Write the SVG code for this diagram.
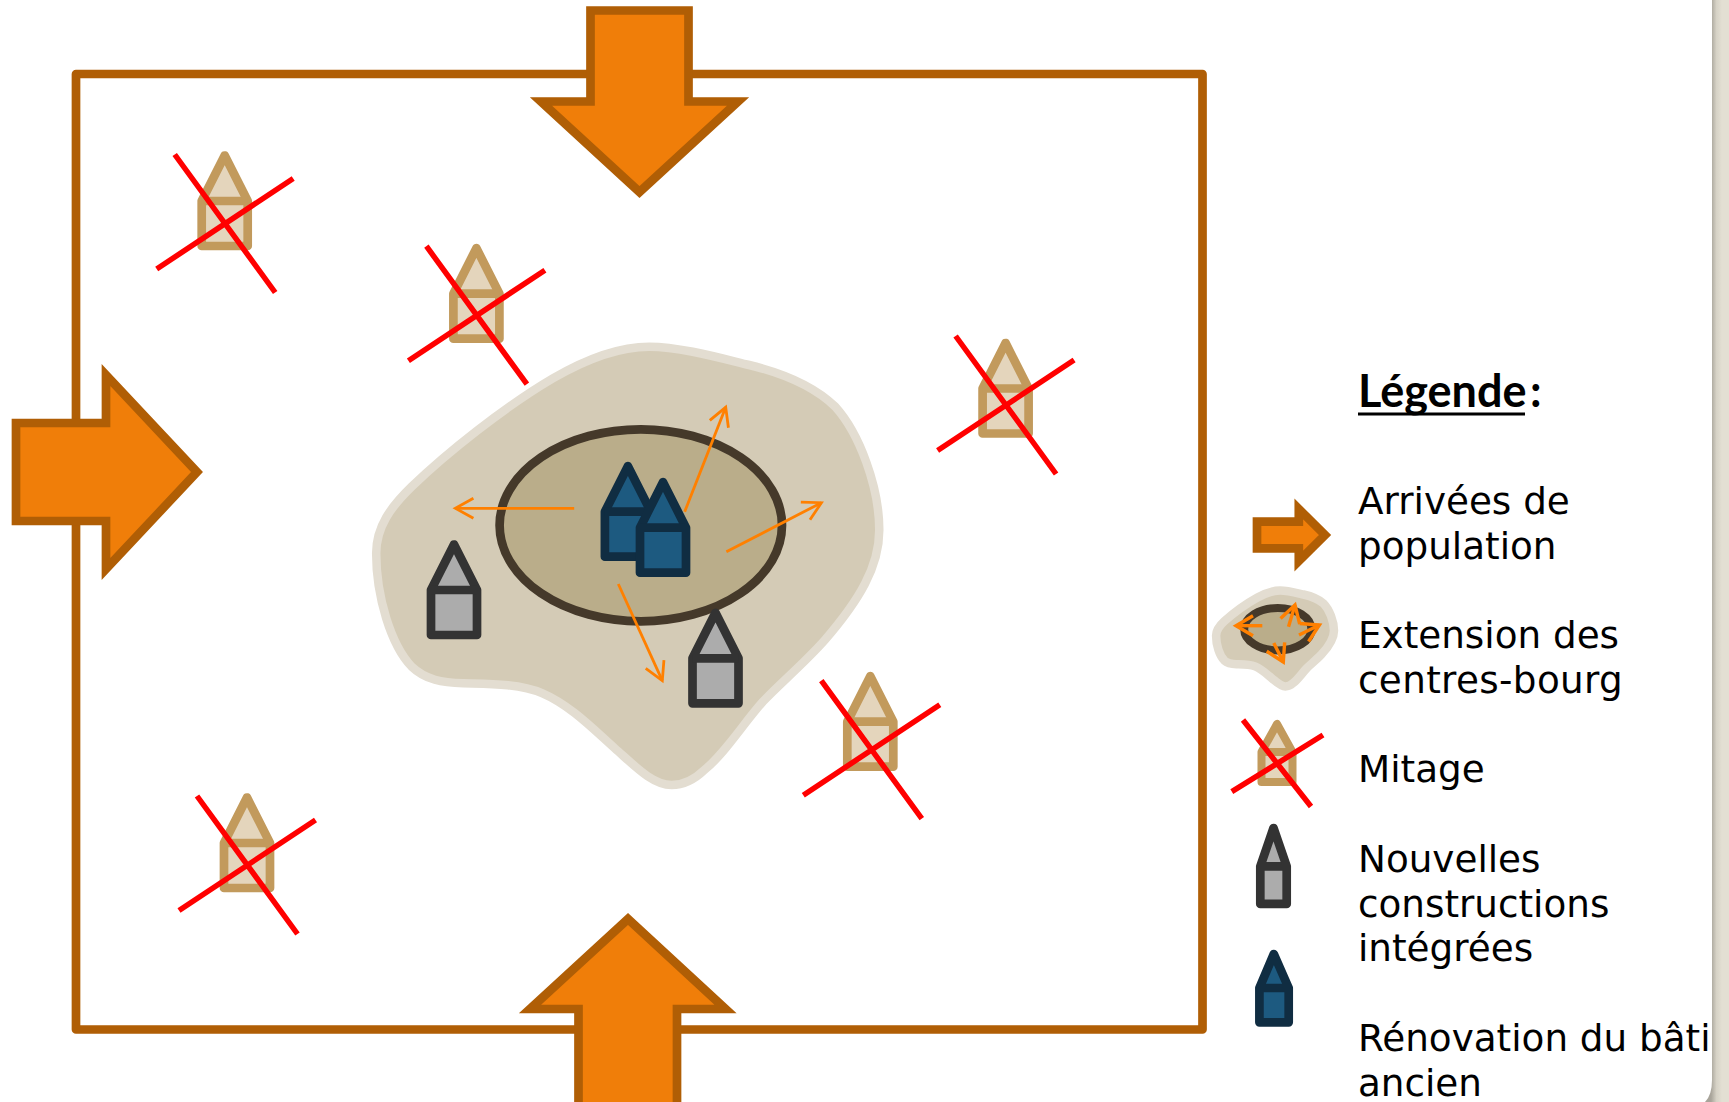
<svg xmlns="http://www.w3.org/2000/svg" width="1729" height="1102" viewBox="0 0 1729 1102">
<style>
.page{fill:#fff}
.frame{fill:none;stroke:#b05e05;stroke-width:8.7;stroke-linejoin:round}
.big{fill:#f07e09;stroke:#b05e05;stroke-width:8.7;stroke-linejoin:miter;stroke-miterlimit:10}
.blob{fill:#d4cbb6;stroke:#e3ddd1;stroke-width:8.5}
.core{fill:#baad8a;stroke:#45392a}
.h{stroke-linejoin:round;stroke-width:8.7}
.tan{fill:#e4d5bc;stroke:#c29a5c}
.grey{fill:#acacac;stroke:#333}
.blue{fill:#1d5a80;stroke:#102d42}
.x{stroke:#f00;stroke-width:5.5;fill:none}
.ar{stroke:#ff8000;stroke-width:2.8;fill:none;marker-end:url(#head)}
.ars{stroke:#ff8000;stroke-width:3.4;fill:none;marker-end:url(#heads)}
.t{font-family:"DejaVu Sans",sans-serif;font-size:37.3px;fill:#000}
.title{font-family:Lato,"Open Sans",sans-serif;font-weight:700;font-size:45px;fill:#000}
</style>
<defs>
<linearGradient id="edge" gradientUnits="userSpaceOnUse" x1="1711" y1="0" x2="1722" y2="0"><stop offset="0" stop-color="#a8a49a"/><stop offset="0.5" stop-color="#d6d2c6"/><stop offset="1" stop-color="#e3dfd3"/></linearGradient>
<marker id="head" markerUnits="userSpaceOnUse" markerWidth="30" markerHeight="30" viewBox="-25 -15 30 30" refX="0" refY="0" orient="auto"><path d="M-18,-10 L0,0 L-18,10" fill="none" stroke="#ff8000" stroke-width="2.8"/></marker>
<marker id="heads" markerUnits="userSpaceOnUse" markerWidth="30" markerHeight="30" viewBox="-25 -15 30 30" refX="0" refY="0" orient="auto"><path d="M-17,-10 L0,0 L-17,10" fill="none" stroke="#ff8000" stroke-width="3.4"/></marker>
<path id="blobp" vector-effect="non-scaling-stroke" d="M840 50 C930 50 1050 85 1130 105 C1230 130 1320 170 1380 230 C1450 310 1508 470 1508 600 C1508 710 1450 810 1350 930 C1290 1000 1220 1060 1170 1115 C1110 1185 1060 1270 1000 1320 C970 1350 935 1365 905 1365 C850 1365 800 1310 740 1255 C680 1200 610 1125 530 1090 C460 1060 370 1062 300 1060 C240 1058 190 1050 150 1010 C90 945 47 800 47 670 C47 590 90 530 150 470 C250 370 420 230 560 145 C660 85 750 50 840 50Z"/>
<g id="house"><path d="M0,4.5 L-23,50 V95 H23 V50Z"/><path d="M-23,50 H23" fill="none"/></g>
<g id="cross"><path class="x" d="M-50,3.5 L50.500,141.500 M-68,118 L68.500,27.500"/></g>
</defs>
<rect width="1729" height="1102" fill="url(#edge)"/>
<path id="panel" class="page" d="M0,0 H1712 V1080 Q1712,1095 1705,1102 H0Z" stroke="none"/>
<g id="territoire"><rect class="frame" x="76" y="74" width="1126.500" height="955.500"/></g>
<g id="arrivee-haut"><path class="big" d="M590.500,10.500 H688.500 V101.500 H738 L639.500,192 L541,101.500 H590.500Z"/></g>
<g id="arrivee-gauche"><path class="big" d="M16,423 H106 V375 L197,472 L106,569 V521 H16Z"/></g>
<g id="arrivee-bas"><path class="big" d="M578.500,1108 V1009 H530 L628,919 L725.500,1009 H677 V1108"/></g>
<g id="extension"><use href="#blobp" class="blob" transform="translate(360 330) scale(.34435 .33333)"/><ellipse class="core" cx="640.800" cy="525.300" rx="141.200" ry="96" stroke-width="8.700"/></g>
<g id="connecteurs">
<path class="ar" d="M574.200,508.300 L455.400,508.300"/>
<path class="ar" d="M684.700,511.700 L725.700,407.300"/>
<path class="ar" d="M726.400,551.700 L821.400,502.700"/>
<path class="ar" d="M618.300,584 L662.300,680.700"/>
</g>
<g id="renovation-1"><use href="#house" class="h blue" transform="translate(627.900 461.700)"/></g>
<g id="renovation-2"><use href="#house" class="h blue" transform="translate(663 477.700)"/></g>
<g id="nouvelle-1"><use href="#house" class="h grey" transform="translate(454 540)"/></g>
<g id="nouvelle-2"><use href="#house" class="h grey" transform="translate(715.500 608.300)"/></g>
<g id="mitage-1"><use href="#house" class="h tan" transform="translate(224.700 151)"/><use href="#cross" transform="translate(224.700 151)"/></g>
<g id="mitage-2"><use href="#house" class="h tan" transform="translate(476.400 243.700)"/><use href="#cross" transform="translate(476.400 242.700)"/></g>
<g id="mitage-3"><use href="#house" class="h tan" transform="translate(1005.600 338.500)"/><use href="#cross" transform="translate(1005.600 332.500)"/></g>
<g id="mitage-4"><use href="#house" class="h tan" transform="translate(870.300 671.700)"/><use href="#cross" transform="translate(871.300 677.200)"/></g>
<g id="mitage-5"><use href="#house" class="h tan" transform="translate(247 793)"/><use href="#cross" transform="translate(247 792.500)"/></g>
<g id="legende">
<text class="title" x="1358" y="406.700">Légende</text>
<path d="M1358,414 H1525" stroke="#000" stroke-width="3"/>
<text class="title" x="1530" y="406.700">:</text>
<path class="big" d="M1257,521.700 H1298.800 V509 L1325,535 L1298.800,561 V548.300 H1257Z"/>
<g id="legende-extension">
<use href="#blobp" class="blob" transform="translate(1212.300 586.850) scale(.0807 .073)"/>
<ellipse class="core" cx="1277.800" cy="629.200" rx="33.600" ry="21.200" stroke-width="8"/>
<path class="ars" d="M1262.300,625.700 L1236,625.700"/>
<path class="ars" d="M1288.500,626.700 L1295,605"/>
<path class="ars" d="M1299,635 L1319.400,625"/>
<path class="ars" d="M1273.800,643 L1283.300,662"/>
</g>
<g id="legende-mitage">
<path class="tan" stroke-width="8" stroke-linejoin="round" d="M1277,724 L1261.500,752 V782 H1292.500 V752Z M1261.500,752 H1292.500"/>
<path class="x" d="M1243,720 L1311,806.500 M1231.800,791.700 L1323,735"/>
</g>
<g id="legende-nouvelles"><path class="grey" stroke-width="8.700" stroke-linejoin="round" d="M1273.500,828 L1260.300,866.300 V903.900 H1286.700 V866.300Z M1260.300,866.300 H1286.700"/></g>
<g id="legende-renovation"><path class="blue" stroke-width="8.700" stroke-linejoin="round" d="M1273.800,954 L1259.400,988 V1022.300 H1288.700 V988Z M1259.400,988 H1288.700"/></g>
<text class="t" x="1358" y="514">Arrivées de</text>
<text class="t" x="1358" y="558.500">population</text>
<text class="t" x="1358" y="648.300">Extension des</text>
<text class="t" x="1358" y="692.700" letter-spacing=".35">centres-bourg</text>
<text class="t" x="1358" y="782.300">Mitage</text>
<text class="t" x="1358" y="872.300">Nouvelles</text>
<text class="t" x="1358" y="916.500">constructions</text>
<text class="t" x="1358" y="961">intégrées</text>
<text class="t" x="1358" y="1051.200">Rénovation du bâti</text>
<text class="t" x="1358" y="1096">ancien</text>
</g>
</svg>
